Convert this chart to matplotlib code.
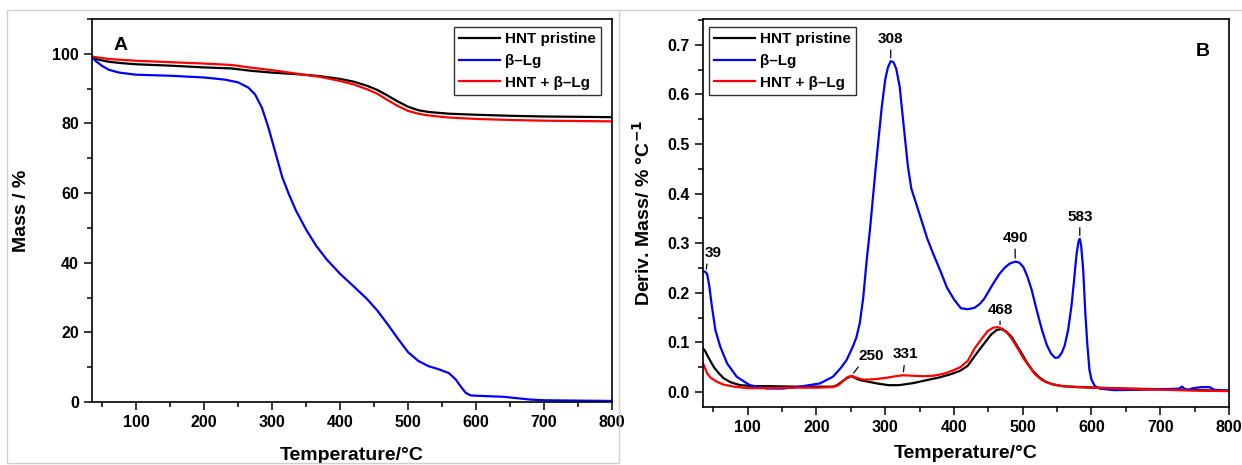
import numpy as np
import matplotlib
matplotlib.use("Agg")
import matplotlib.pyplot as plt
from matplotlib.ticker import MultipleLocator, FormatStrFormatter
from matplotlib.patches import Rectangle
from matplotlib.lines import Line2D

plt.rcParams["font.family"] = ["Liberation Sans", "DejaVu Sans"]
plt.rcParams["font.weight"] = "bold"
plt.rcParams["mathtext.default"] = "bf"

# --- panel A: TGA mass curves (temperature in °C, mass in %) ---
tga_hnt_t = [35, 45, 60, 80, 100, 150, 200, 240, 270, 300, 340, 370, 400, 420, 440, 455,
             470, 485, 500, 515, 530, 560, 600, 650, 700, 750, 800]
tga_hnt_m = [99.0, 98.3, 97.7, 97.3, 97.0, 96.6, 96.1, 95.8, 95.1, 94.6, 94.1, 93.6, 92.8,
             92.0, 90.8, 89.6, 88.0, 86.3, 84.8, 83.8, 83.3, 82.8, 82.5, 82.2, 82.0, 81.9, 81.8]

tga_blg_t = [35, 40, 50, 60, 75, 100, 150, 200, 230, 250, 265, 275, 285, 295, 305, 315, 325,
             335, 350, 365, 380, 400, 420, 440, 455, 470, 485, 500, 515, 530, 545, 560, 570,
             578, 585, 592, 600, 640, 660, 680, 700, 750, 800]
tga_blg_m = [99.2, 98.0, 96.5, 95.4, 94.6, 94.0, 93.7, 93.2, 92.6, 91.8, 90.3, 88.3, 84.5,
             78.5, 71.5, 64.5, 59.5, 55.0, 49.5, 44.8, 41.0, 36.8, 33.2, 29.5, 26.2, 22.3,
             18.2, 14.3, 11.8, 10.3, 9.4, 8.3, 6.5, 4.3, 2.6, 1.9, 1.8, 1.5, 1.1, 0.7, 0.5,
             0.4, 0.3]

tga_mix_t = [35, 60, 100, 150, 200, 240, 270, 300, 340, 370, 400, 420, 440, 455, 470, 485,
             500, 515, 530, 560, 600, 650, 700, 800]
tga_mix_m = [99.2, 98.5, 98.0, 97.6, 97.2, 96.8, 96.0, 95.3, 94.2, 93.4, 92.2, 91.2, 89.8,
             88.5, 86.7, 85.0, 83.6, 82.8, 82.3, 81.7, 81.3, 81.0, 80.8, 80.6]

# --- panel B: DTG curves (% / °C) ---
dtg_hnt_t = [35, 38, 41, 46, 51, 58, 65, 75, 89, 110, 130, 170, 200, 224, 230, 238, 244, 251,
             257, 264, 275, 290, 305, 320, 340, 360, 380, 395, 409, 420, 434, 445, 454, 462,
             469, 476, 484, 491, 499, 506, 514, 523, 533, 545, 558, 580, 608, 650, 700, 750, 800]
dtg_hnt_d = [0.088, 0.083, 0.075, 0.062, 0.050, 0.038, 0.028, 0.020, 0.014, 0.012, 0.012,
             0.011, 0.011, 0.011, 0.014, 0.022, 0.028, 0.032, 0.028, 0.024, 0.021, 0.017,
             0.014, 0.014, 0.018, 0.024, 0.030, 0.036, 0.043, 0.053, 0.080, 0.100, 0.116,
             0.125, 0.127, 0.122, 0.111, 0.095, 0.077, 0.060, 0.044, 0.031, 0.021, 0.015,
             0.012, 0.010, 0.009, 0.007, 0.006, 0.004, 0.003]

dtg_blg_t = [35, 38, 41, 44, 48, 53, 60, 70, 84, 103, 127, 150, 176, 205, 224, 235, 244, 253,
             258, 263, 268, 273, 278, 282, 286, 291, 295, 300, 304, 308, 312, 316, 321, 327,
             333, 338, 345, 353, 361, 370, 380, 390, 400, 410, 420, 430, 437, 444, 452, 459,
             466, 474, 481, 489, 495, 501, 507, 513, 520, 528, 535, 541, 547, 552, 557, 561,
             566, 571, 575, 578, 581, 583, 585, 588, 591, 594, 597, 600, 605, 612, 633, 680,
             707, 727, 732, 736, 741, 748, 760, 772, 778, 785, 800]
dtg_blg_d = [0.243, 0.243, 0.238, 0.215, 0.172, 0.125, 0.092, 0.058, 0.031, 0.014, 0.0074,
             0.007, 0.011, 0.0175, 0.031, 0.048, 0.065, 0.092, 0.110, 0.139, 0.190, 0.265,
             0.330, 0.390, 0.450, 0.520, 0.575, 0.630, 0.655, 0.667, 0.665, 0.652, 0.616,
             0.535, 0.455, 0.410, 0.380, 0.345, 0.310, 0.278, 0.245, 0.210, 0.187, 0.169,
             0.167, 0.170, 0.177, 0.188, 0.207, 0.223, 0.238, 0.251, 0.259, 0.263, 0.261,
             0.252, 0.232, 0.206, 0.167, 0.125, 0.095, 0.078, 0.069, 0.070, 0.080, 0.094,
             0.125, 0.175, 0.230, 0.275, 0.303, 0.309, 0.295, 0.245, 0.160, 0.095, 0.045,
             0.025, 0.012, 0.007, 0.004, 0.005, 0.006, 0.007, 0.011, 0.006, 0.005, 0.008,
             0.010, 0.010, 0.005, 0.004, 0.003]

dtg_mix_t = [35, 38, 41, 46, 55, 65, 80, 100, 130, 170, 200, 224, 232, 240, 245, 251, 258,
             268, 285, 302, 315, 326, 340, 355, 370, 385, 397, 409, 420, 430, 440, 449, 457,
             464, 471, 479, 486, 494, 501, 509, 517, 528, 540, 558, 600, 650, 700, 750, 800]
dtg_mix_d = [0.058, 0.048, 0.038, 0.029, 0.021, 0.015, 0.011, 0.008, 0.008, 0.009, 0.009,
             0.010, 0.014, 0.024, 0.030, 0.033, 0.029, 0.025, 0.026, 0.029, 0.032, 0.034,
             0.033, 0.032, 0.033, 0.037, 0.043, 0.050, 0.063, 0.088, 0.107, 0.123, 0.130,
             0.131, 0.127, 0.117, 0.103, 0.085, 0.068, 0.053, 0.037, 0.024, 0.017, 0.012,
             0.009, 0.007, 0.005, 0.003, 0.002]

labels = ["HNT pristine", "β–Lg", "HNT + β–Lg"]
colors = ["black", "#0000ff", "#ff0000"]

# peak labels on panel B: text, peak temperature, which curve
peak_text = ["39", "250", "308", "331", "468", "490", "583"]
peak_temp = [39, 251, 308, 326, 467, 489, 583]
peak_curve = [1, 2, 1, 2, 2, 1, 1]
# label offsets in points (dx, dy) and where the tick leaves the text
peak_off = [(5, 9), (14, 9), (0, 11), (2, 10), (0, 8), (0, 12), (0, 11)]
peak_rel = [(0.2, 0.0), (0.12, 0.0), (0.5, 0.0), (0.45, 0.0), (0.5, 0.0), (0.5, 0.0), (0.5, 0.0)]

TICK = 11.5
LAB = 14

fig = plt.figure(figsize=(12.42, 4.65), dpi=100)
# grey screenshot frames
fig.add_artist(Rectangle((7 / 1242, 1 - 463 / 465), 612 / 1242, 453 / 465,
                         transform=fig.transFigure, fill=False, ec="#cfcfcf", lw=1.0))
fig.add_artist(Line2D([620 / 1242, 1], [1 - 10 / 465] * 2, transform=fig.transFigure,
                      color="#cfcfcf", lw=1.0))

axA = fig.add_axes([92 / 1242, 1 - 402 / 465, 520 / 1242, 383 / 465])
axB = fig.add_axes([703 / 1242, 1 - 407 / 465, 526 / 1242, 388 / 465])


def style(ax):
    for s in ax.spines.values():
        s.set_linewidth(1.2)
    ax.tick_params(which="both", direction="out", top=False, right=False,
                   labelsize=TICK, width=1.1)
    ax.tick_params(which="major", length=5.5, pad=4)
    ax.tick_params(which="minor", length=3.5)
    ax.xaxis.set_major_locator(MultipleLocator(100))
    ax.xaxis.set_minor_locator(MultipleLocator(50))
    for t in ax.get_xticklabels() + ax.get_yticklabels():
        t.set_fontweight("bold")


def legend(ax, anchor, loc):
    lg = ax.legend(loc=loc, bbox_to_anchor=anchor, borderaxespad=0, fancybox=False,
                   edgecolor="#333333", framealpha=1, handlelength=2.7, handletextpad=0.3,
                   borderpad=0.35, labelspacing=0.5, prop={"size": 11, "weight": "bold"})
    lg.get_frame().set_linewidth(1.0)


# panel A
for (t, m), lab, c in zip([(tga_hnt_t, tga_hnt_m), (tga_blg_t, tga_blg_m),
                           (tga_mix_t, tga_mix_m)], labels, colors):
    axA.plot(t, m, color=c, lw=1.6, label=lab)
axA.set_xlim(35, 800)
axA.set_ylim(0, 110)
axA.yaxis.set_major_locator(MultipleLocator(20))
axA.yaxis.set_minor_locator(MultipleLocator(10))
style(axA)
axA.set_xlabel("Temperature/°C", fontsize=LAB, fontweight="bold", labelpad=12)
axA.set_ylabel("Mass / %", fontsize=LAB, fontweight="bold", labelpad=16)
axA.text(0.055, 0.93, "A", transform=axA.transAxes, fontsize=14, fontweight="bold",
         ha="center", va="center")
legend(axA, (0.979, 0.979), "upper right")

# panel B
dtg = [(dtg_hnt_t, dtg_hnt_d), (dtg_blg_t, dtg_blg_d), (dtg_mix_t, dtg_mix_d)]
for (t, d), lab, c in zip(dtg, labels, colors):
    axB.plot(t, d, color=c, lw=1.6, label=lab)
axB.set_xlim(35, 800)
axB.set_ylim(-0.03, 0.752)
axB.yaxis.set_major_locator(MultipleLocator(0.1))
axB.yaxis.set_minor_locator(MultipleLocator(0.05))
axB.yaxis.set_major_formatter(FormatStrFormatter("%.1f"))
style(axB)
axB.set_xlabel("Temperature/°C", fontsize=LAB, fontweight="bold", labelpad=7)
axB.set_ylabel("Deriv. Mass/ % °C$^{-1}$", fontsize=LAB, fontweight="bold", labelpad=10)
axB.text(0.95, 0.915, "B", transform=axB.transAxes, fontsize=14, fontweight="bold",
         ha="center", va="center")
legend(axB, (0.011, 0.979), "upper left")

for txt, pt, ci, off, rel in zip(peak_text, peak_temp, peak_curve, peak_off, peak_rel):
    t, d = dtg[ci]
    py = float(np.interp(pt, t, d))
    axB.annotate(txt, xy=(pt, py), xytext=off, textcoords="offset points",
                 ha="center", va="bottom", fontsize=11, fontweight="bold",
                 arrowprops=dict(arrowstyle="-", lw=0.9, color="black",
                                 shrinkA=1, shrinkB=2.5, relpos=rel))

fig.savefig("out.png", dpi=100)
